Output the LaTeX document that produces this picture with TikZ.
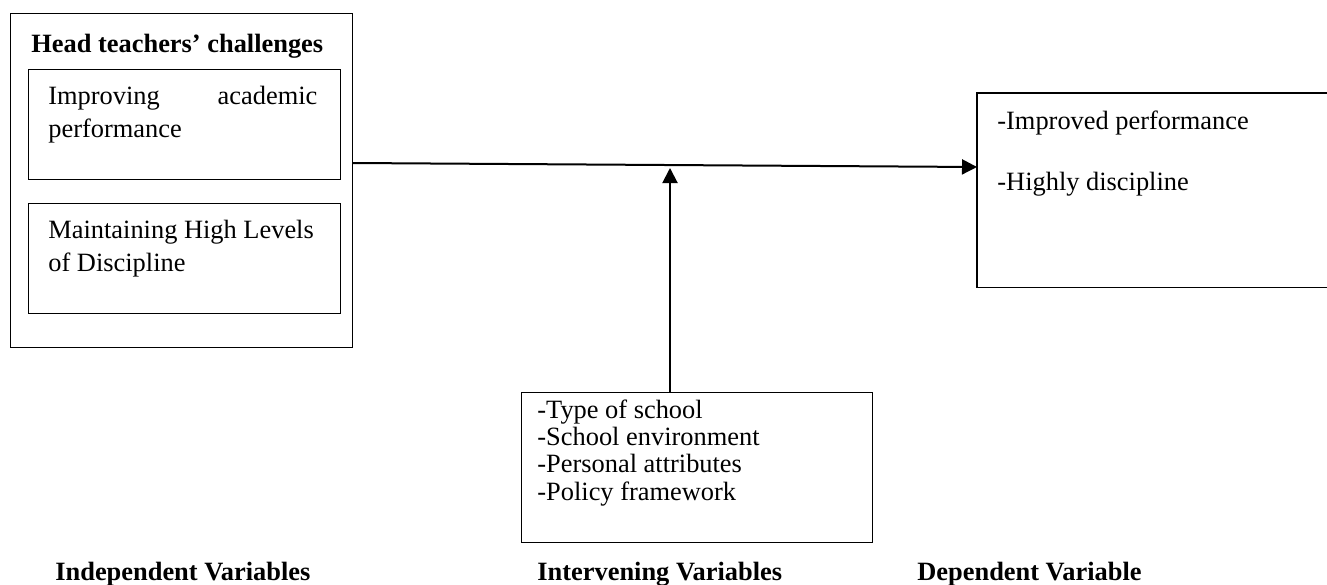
\documentclass[tikz,border=0pt]{standalone}
\usepackage{fontspec}
\setmainfont{Liberation Serif}
\usetikzlibrary{arrows.meta}
\begin{document}
\begin{tikzpicture}[x=0.5pt,y=-0.5pt,
  box/.style={draw, line width=0.6pt, inner sep=0pt, anchor=north west},
  txt/.style={anchor=base west, inner sep=0pt, font=\fontsize{13.2pt}{13.75pt}\selectfont},
  btxt/.style={anchor=base west, inner sep=0pt, font=\fontsize{13.2pt}{13.75pt}\selectfont\bfseries},
  arr/.style={line width=1pt, -{Triangle[length=7.5pt,width=7.5pt]}}]
\useasboundingbox (0,0) rectangle (1327,584);

% independent variables
\node[box, minimum width=171pt, minimum height=167pt] (ht) at (10,13) {};
\node[btxt] (httitle) at (31,52) {Head teachers’ challenges};
\node[box, minimum width=156pt, minimum height=55pt] (b1) at (28,69) {};
\node[txt] (b1a) at (48,104) {\makebox[134.5pt][s]{Improving\hfill academic}};
\node[txt] (b1b) at (48,137) {performance};
\node[box, minimum width=156pt, minimum height=55pt] (b2) at (28,203) {};
\node[txt] (b2a) at (48,238) {Maintaining High Levels};
\node[txt] (b2b) at (48,271) {of Discipline};

% dependent variable (right side runs off the page)
\node[inner sep=0pt, anchor=north west, minimum width=175pt, minimum height=97pt] (dv) at (977,93) {};
\draw[line width=0.6pt] (dv.north east) -- (dv.north west) -- (dv.south west) -- (dv.south east);
\node[txt] (dva) at (997,129) {-Improved performance};
\node[txt] (dvb) at (997,190) {-Highly discipline};

% intervening variables
\node[box, minimum width=175.5pt, minimum height=75pt] (iv) at (521,392) {};
\node[txt] (iva) at (537,418) {-Type of school};
\node[txt] (ivb) at (537,445) {-School environment};
\node[txt] (ivc) at (537,472) {-Personal attributes};
\node[txt] (ivd) at (537,500) {-Policy framework};

% connectors
\coordinate (hstart) at (ht.east |- 0,163);
\coordinate (hend) at (dv.west |- 0,167);
\draw[arr] (hstart) -- (hend);
\coordinate (vstart) at (iv.north -| 670,0);
\coordinate (vtip) at (670,168);
\draw[arr] (vstart) -- (vtip);

% labels
\node[btxt] (lind) at (55,580) {Independent Variables};
\node[btxt] (lint) at (537,580) {Intervening Variables};
\node[btxt] (ldep) at (917,580) {Dependent Variable};
\end{tikzpicture}
\end{document}
